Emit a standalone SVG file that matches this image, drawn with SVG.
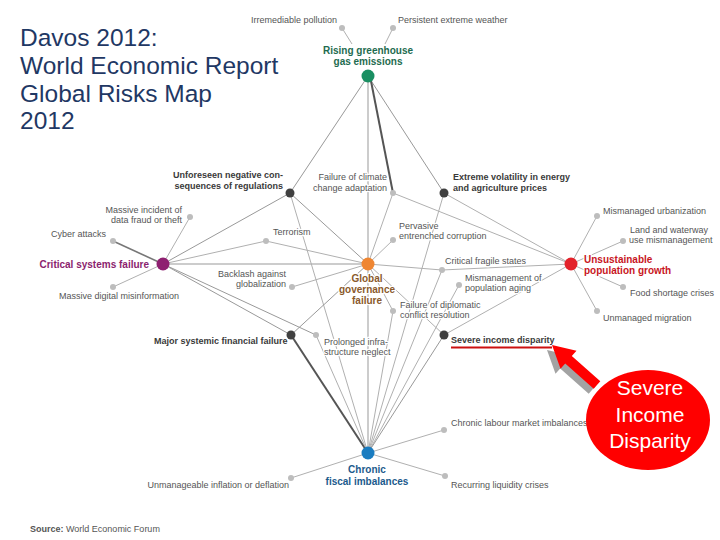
<svg xmlns="http://www.w3.org/2000/svg" width="720" height="540" viewBox="0 0 720 540">
<style>
.e{stroke:#b0b0b0;stroke-width:1;fill:none}
.e2{stroke:#999;stroke-width:1;fill:none}
.ed{stroke:#555;stroke-width:2;fill:none}
.t{font-family:"Liberation Sans",Arial,sans-serif;font-size:9px;fill:#555;paint-order:stroke;stroke:#fff;stroke-width:2.5px;stroke-linejoin:round}
.tb{font-weight:bold;fill:#3a3a3a}
.h{font-size:10px;font-weight:bold}
.dot{fill:#bdbdbd}
.dk{fill:#404040}
.title{font-family:"Liberation Sans",Arial,sans-serif;font-size:24.5px;fill:#1f3864}
</style>
<rect width="720" height="540" fill="#fff"/>
<g id="title">
<text class="title" x="20" y="46">Davos 2012:</text>
<text class="title" x="20" y="74">World Economic Report</text>
<text class="title" x="20" y="102">Global Risks Map</text>
<text class="title" x="20" y="129">2012</text>
</g>
<g id="connectors">
<line class="e2" x1="368" y1="76" x2="290" y2="193"/>
<line class="e2" x1="368" y1="76" x2="444" y2="193"/>
<line class="e2" x1="368" y1="76" x2="368" y2="453"/>
<line class="ed" x1="370" y1="76" x2="393" y2="193"/>
<line class="e2" x1="163" y1="264" x2="290" y2="193"/>
<line class="e" x1="163" y1="264" x2="266" y2="241"/>
<line class="e" x1="266" y1="241" x2="368" y2="264"/>
<line class="e2" x1="163" y1="264" x2="368" y2="264"/>
<line class="e2" x1="163" y1="264" x2="291" y2="335"/>
<line class="e2" x1="163" y1="264" x2="316" y2="335"/>
<line class="e" x1="163" y1="264" x2="190" y2="217"/>
<line stroke="#777" stroke-width="1.6" x1="163" y1="264" x2="113" y2="241"/>
<line class="e" x1="163" y1="264" x2="113" y2="287"/>
<line class="e2" x1="290" y1="193" x2="368" y2="264"/>
<line class="e" x1="290" y1="193" x2="368" y2="453"/>
<line class="e" x1="444" y1="193" x2="571" y2="264"/>
<line class="e" x1="393" y1="193" x2="571" y2="264"/>
<line class="e" x1="393" y1="193" x2="368" y2="264"/>
<line class="e" x1="393" y1="240" x2="368" y2="264"/>
<line class="e" x1="368" y1="264" x2="442" y2="270"/>
<line class="e" x1="442" y1="270" x2="571" y2="264"/>
<line class="e" x1="368" y1="264" x2="444" y2="335"/>
<line class="e" x1="368" y1="264" x2="393" y2="311"/>
<line class="e" x1="368" y1="264" x2="292" y2="287"/>
<line class="e2" x1="291" y1="335" x2="368" y2="264"/>
<line class="ed" x1="291" y1="335" x2="368" y2="453"/>
<line class="e" x1="316" y1="335" x2="368" y2="453"/>
<line class="e" x1="444" y1="193" x2="368" y2="453"/>
<line class="e" x1="442" y1="270" x2="368" y2="453"/>
<line class="e" x1="459" y1="285" x2="368" y2="453"/>
<line class="e" x1="393" y1="311" x2="368" y2="453"/>
<line class="e2" x1="444" y1="335" x2="368" y2="453"/>
<line class="e" x1="571" y1="264" x2="444" y2="335"/>
<line class="e" x1="571" y1="264" x2="597" y2="216"/>
<line class="e" x1="571" y1="264" x2="623" y2="241"/>
<line class="e" x1="571" y1="264" x2="623" y2="287"/>
<line class="e" x1="571" y1="264" x2="597" y2="311"/>
<line class="e" x1="368" y1="453" x2="444" y2="430"/>
<line class="e" x1="368" y1="453" x2="445" y2="476"/>
<line class="e" x1="368" y1="453" x2="291" y2="478"/>
<line class="e" x1="342" y1="28" x2="352" y2="44"/>
<line class="e" x1="393" y1="28" x2="385" y2="44"/>
</g>
<g id="n-greenhouse">
<circle cx="368" cy="76" r="6.5" fill="#1a8f62"/>
<text class="t h" x="368" y="54" text-anchor="middle" style="fill:#1e6b4f">Rising greenhouse</text>
<text class="t h" x="368" y="65" text-anchor="middle" style="fill:#1e6b4f">gas emissions</text>
</g>
<g id="n-pollution"><circle class="dot" cx="342" cy="28" r="3"/><text class="t" x="337" y="23" text-anchor="end">Irremediable pollution</text></g>
<g id="n-weather"><circle class="dot" cx="393" cy="28" r="3"/><text class="t" x="398" y="23">Persistent extreme weather</text></g>
<g id="n-unforeseen">
<circle class="dk" cx="290" cy="193" r="4.5"/>
<text class="t tb" x="283" y="178" text-anchor="end">Unforeseen negative con-</text>
<text class="t tb" x="283" y="189" text-anchor="end">sequences of regulations</text>
</g>
<g id="n-climate"><circle class="dot" cx="393" cy="193" r="3"/>
<text class="t" x="387" y="180" text-anchor="end">Failure of climate</text>
<text class="t" x="387" y="191" text-anchor="end">change adaptation</text></g>
<g id="n-volatility"><circle class="dk" cx="444" cy="193" r="4.5"/>
<text class="t tb" x="453" y="180">Extreme volatility in energy</text>
<text class="t tb" x="453" y="191">and agriculture prices</text></g>
<g id="n-corruption"><circle class="dot" cx="393" cy="240" r="3"/>
<text class="t" x="399" y="229">Pervasive</text>
<text class="t" x="399" y="239">entrenched corruption</text></g>
<g id="n-fragile"><circle class="dot" cx="442" cy="270" r="3"/><text class="t" x="445" y="264">Critical fragile states</text></g>
<g id="n-aging"><circle class="dot" cx="459" cy="285" r="3"/>
<text class="t" x="465" y="281">Mismanagement of</text>
<text class="t" x="465" y="291">population aging</text></g>
<g id="n-diplomatic"><circle class="dot" cx="393" cy="311" r="3"/>
<text class="t" x="400" y="308">Failure of diplomatic</text>
<text class="t" x="400" y="318">conflict resolution</text></g>
<g id="n-global">
<circle cx="368" cy="264" r="6.5" fill="#ef8632"/>
<text class="t h" x="367" y="282" text-anchor="middle" style="fill:#8a5a2c">Global</text>
<text class="t h" x="367" y="293" text-anchor="middle" style="fill:#8a5a2c">governance</text>
<text class="t h" x="367" y="304" text-anchor="middle" style="fill:#8a5a2c">failure</text>
</g>
<g id="n-terrorism"><circle class="dot" cx="266" cy="241" r="3"/><text class="t" x="273" y="235">Terrorism</text></g>
<g id="n-fraud"><circle class="dot" cx="190" cy="217" r="3"/>
<text class="t" x="182" y="213" text-anchor="end">Massive incident of</text>
<text class="t" x="182" y="223" text-anchor="end">data fraud or theft</text></g>
<g id="n-cyber"><circle class="dot" cx="113" cy="241" r="3"/><text class="t" x="106" y="237" text-anchor="end">Cyber attacks</text></g>
<g id="n-critical">
<circle cx="163" cy="264" r="6.5" fill="#8e1f70"/>
<text class="t h" x="149" y="268" text-anchor="end" style="fill:#8b1e6e">Critical systems failure</text>
</g>
<g id="n-backlash"><circle class="dot" cx="292" cy="287" r="3"/>
<text class="t" x="286" y="277" text-anchor="end">Backlash against</text>
<text class="t" x="286" y="287" text-anchor="end">globalization</text></g>
<g id="n-misinfo"><circle class="dot" cx="113" cy="287" r="3"/><text class="t" x="59" y="299">Massive digital misinformation</text></g>
<g id="n-financial"><circle class="dk" cx="291" cy="335" r="4.5"/><text class="t tb" x="154" y="344">Major systemic financial failure</text></g>
<g id="n-infra"><circle class="dot" cx="316" cy="335" r="3"/>
<text class="t" x="324" y="345">Prolonged infra-</text>
<text class="t" x="324" y="355">structure neglect</text></g>
<g id="n-income"><circle class="dk" cx="444" cy="335" r="4.5"/>
<text class="t tb" x="451" y="343">Severe income disparity</text>
<line x1="451" y1="347.5" x2="552" y2="347.5" stroke="#cc1111" stroke-width="2"/></g>
<g id="n-population">
<circle cx="571" cy="264" r="6.5" fill="#e3222a"/>
<text class="t h" x="584" y="263" style="fill:#c8161e">Unsustainable</text>
<text class="t h" x="584" y="274" style="fill:#c8161e">population growth</text>
</g>
<g id="n-urban"><circle class="dot" cx="597" cy="216" r="3"/><text class="t" x="603" y="214">Mismanaged urbanization</text></g>
<g id="n-land"><circle class="dot" cx="623" cy="241" r="3"/>
<text class="t" x="630" y="233">Land and waterway</text>
<text class="t" x="629" y="243">use mismanagement</text></g>
<g id="n-food"><circle class="dot" cx="623" cy="287" r="3"/><text class="t" x="630" y="296">Food shortage crises</text></g>
<g id="n-migration"><circle class="dot" cx="597" cy="311" r="3"/><text class="t" x="603" y="321">Unmanaged migration</text></g>
<g id="n-labour"><circle class="dot" cx="444" cy="430" r="3"/><text class="t" x="451" y="426">Chronic labour market imbalances</text></g>
<g id="n-fiscal">
<circle cx="368" cy="453" r="6.5" fill="#1a7cc0"/>
<text class="t h" x="367" y="473" text-anchor="middle" style="fill:#1b5a8c">Chronic</text>
<text class="t h" x="367" y="485" text-anchor="middle" style="fill:#1b5a8c">fiscal imbalances</text>
</g>
<g id="n-liquidity"><circle class="dot" cx="445" cy="476" r="3"/><text class="t" x="451" y="488">Recurring liquidity crises</text></g>
<g id="n-inflation"><circle class="dot" cx="291" cy="478" r="3"/><text class="t" x="289" y="488" text-anchor="end">Unmanageable inflation or deflation</text></g>
<g id="source"><text class="t" x="30" y="532"><tspan font-weight="bold">Source:</tspan> World Economic Forum</text></g>
<g id="callout">
<polygon fill="#a3a3a3" points="547,350 571.5,355.7 566.8,361 595.3,386.3 588.7,393.8 560.2,368.4 555.5,373.7"/>
<polygon fill="#ff0000" points="552,345 576.5,350.7 571.8,356 600.3,381.3 593.7,388.8 565.2,363.4 560.5,368.7"/>
<ellipse cx="648" cy="420" rx="62" ry="50" fill="#ff0000"/>
<text x="650" y="395" text-anchor="middle" font-family="Liberation Sans, Arial, sans-serif" font-size="21" fill="#fff">Severe</text>
<text x="650" y="422" text-anchor="middle" font-family="Liberation Sans, Arial, sans-serif" font-size="21" fill="#fff">Income</text>
<text x="650" y="448" text-anchor="middle" font-family="Liberation Sans, Arial, sans-serif" font-size="21" fill="#fff">Disparity</text>
</g>
</svg>
